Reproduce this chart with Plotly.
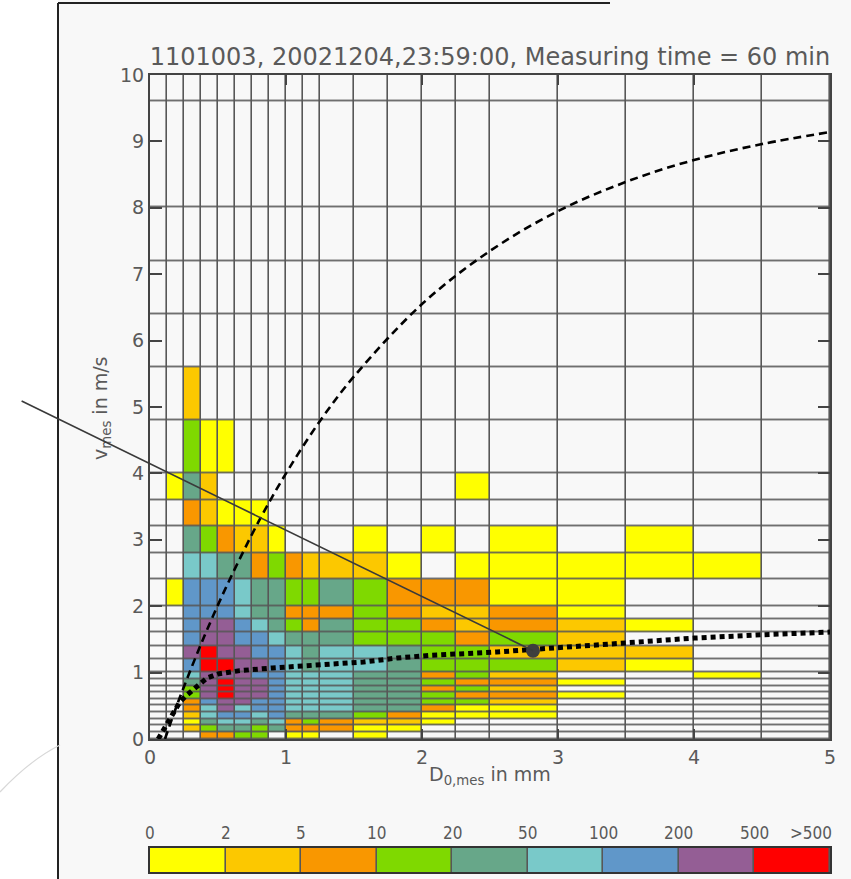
import plotly.graph_objects as go

# ---------------- data ----------------
D_edges = [0, 0.125, 0.25, 0.375, 0.5, 0.625, 0.75, 0.875, 1.0, 1.125, 1.25,
           1.5, 1.75, 2.0, 2.25, 2.5, 3.0, 3.5, 4.0, 4.5, 5.0]
v_edges = [0, 0.1, 0.2, 0.3, 0.4, 0.5, 0.6, 0.7, 0.8, 0.9, 1.0,
           1.2, 1.4, 1.6, 1.8, 2.0, 2.4, 2.8, 3.2, 3.6, 4.0,
           4.8, 5.6, 6.4, 7.2, 8.0, 9.6, 11.2]

class_labels = ["0", "2", "5", "10", "20", "50", "100", "200", "500", ">500"]
class_colors = ["#ffff00", "#fcc800", "#f99700", "#7fd900", "#67a789",
                "#79c9c9", "#6097c9", "#945e95", "#ff0000"]
empty_color = "#f8f8f8"

# drop-count class of every cell (0 = no drops, 1..9 = colour class),
# one list per velocity class, from the lowest velocity class upward
count_class = [
    [0, 0, 0, 3, 3, 4, 4, 0, 1, 1, 0, 1, 0, 0, 0, 0, 0, 0, 0, 0],  # 0.0-0.1
    [0, 0, 2, 4, 5, 5, 4, 5, 3, 3, 3, 1, 1, 0, 0, 0, 0, 0, 0, 0],  # 0.1-0.2
    [0, 0, 1, 5, 6, 6, 5, 6, 3, 4, 3, 2, 2, 1, 0, 0, 0, 0, 0, 0],  # 0.2-0.3
    [0, 0, 2, 6, 7, 7, 6, 7, 5, 5, 5, 4, 3, 1, 1, 1, 0, 0, 0, 0],  # 0.3-0.4
    [0, 0, 3, 6, 8, 6, 7, 7, 6, 6, 6, 5, 5, 3, 1, 1, 0, 0, 0, 0],  # 0.4-0.5
    [0, 0, 3, 7, 8, 8, 7, 7, 6, 6, 6, 5, 5, 4, 4, 2, 0, 0, 0, 0],  # 0.5-0.6
    [0, 0, 4, 8, 9, 8, 8, 7, 6, 6, 6, 5, 5, 4, 3, 3, 1, 0, 0, 0],  # 0.6-0.7
    [0, 0, 4, 8, 9, 8, 8, 7, 6, 6, 6, 5, 5, 3, 4, 2, 0, 0, 0, 0],  # 0.7-0.8
    [0, 0, 5, 8, 9, 8, 8, 7, 6, 6, 6, 5, 5, 4, 3, 3, 1, 0, 0, 0],  # 0.8-0.9
    [0, 0, 6, 8, 8, 8, 7, 7, 6, 6, 6, 5, 5, 3, 4, 2, 0, 0, 1, 0],  # 0.9-1.0
    [0, 0, 7, 9, 9, 8, 8, 7, 6, 5, 6, 6, 5, 4, 4, 4, 2, 1, 0, 0],  # 1.0-1.2
    [0, 0, 8, 9, 8, 8, 7, 7, 6, 5, 6, 6, 5, 4, 4, 2, 2, 2, 0, 0],  # 1.2-1.4
    [0, 0, 7, 8, 8, 7, 7, 6, 5, 5, 5, 4, 4, 4, 3, 4, 2, 0, 0, 0],  # 1.4-1.6
    [0, 0, 7, 8, 8, 7, 6, 5, 4, 3, 5, 4, 4, 3, 2, 3, 2, 1, 0, 0],  # 1.6-1.8
    [0, 0, 7, 7, 7, 6, 5, 5, 3, 3, 3, 4, 3, 2, 2, 3, 1, 0, 0, 0],  # 1.8-2.0
    [0, 1, 7, 7, 7, 6, 5, 5, 4, 4, 5, 4, 3, 3, 3, 1, 1, 0, 0, 0],  # 2.0-2.4
    [0, 0, 6, 6, 5, 5, 3, 4, 3, 2, 2, 2, 1, 0, 1, 1, 1, 1, 1, 0],  # 2.4-2.8
    [0, 0, 5, 4, 3, 2, 2, 1, 0, 0, 0, 1, 0, 1, 0, 1, 0, 1, 0, 0],  # 2.8-3.2
    [0, 0, 3, 2, 1, 1, 1, 0, 0, 0, 0, 0, 0, 0, 0, 0, 0, 0, 0, 0],  # 3.2-3.6
    [0, 1, 5, 2, 0, 0, 0, 0, 0, 0, 0, 0, 0, 0, 1, 0, 0, 0, 0, 0],  # 3.6-4.0
    [0, 0, 4, 1, 1, 0, 0, 0, 0, 0, 0, 0, 0, 0, 0, 0, 0, 0, 0, 0],  # 4.0-4.8
    [0, 0, 2, 0, 0, 0, 0, 0, 0, 0, 0, 0, 0, 0, 0, 0, 0, 0, 0, 0],  # 4.8-5.6
    [0] * 20, [0] * 20, [0] * 20, [0] * 20, [0] * 20,
]

# fall-velocity curve (dashed)
fall_D = [0.11, 0.2, 0.3, 0.4, 0.5, 0.6, 0.8, 1.0, 1.25, 1.5, 2.0, 2.5, 3.0, 3.5, 4.0, 4.5, 5.0]
fall_v = [0.0, 0.52, 1.05, 1.55, 2.02, 2.46, 3.28, 4.0, 4.79, 5.46, 6.55, 7.35, 7.95, 8.39, 8.72, 8.96, 9.14]

# fitted velocity line (thick dotted)
fit_D = [0.06, 0.15, 0.22, 0.27, 0.35, 0.42, 0.5, 0.66, 0.9, 1.2, 1.57, 1.82, 2.06, 2.55, 3.04, 3.5, 4.0, 4.5, 5.0]
fit_v = [0.0, 0.33, 0.56, 0.66, 0.79, 0.92, 0.98, 1.03, 1.07, 1.11, 1.16, 1.22, 1.26, 1.31, 1.38, 1.45, 1.52, 1.57, 1.61]

# pointer: marked point and start of the pointer line
mark_D = [2.816]
mark_v = [1.33]
pointer_from = (-0.955, 5.1)

x_ticks = [0, 1, 2, 3, 4, 5]
y_ticks = list(range(0, 11))

# ---------------- layout helpers ----------------
W, H = 851, 879
ML, MR, MT, MB = 150, 21, 75, 7
PW, PH = W - ML - MR, H - MT - MB
main_bottom_px = 739
cbar_top_px = 848


def px_x(px):
    return (px - ML) / PW


def px_y(py):
    return (H - MB - py) / PH


grid_col = "#575757"
text_col = "#5a5a5a"
font_fam = "DejaVu Sans"
narrow_fam = "Liberation Sans Narrow, DejaVu Sans Condensed"

n = len(class_colors)
cscale = [[0.0, empty_color], [1.0 / (n + 1), empty_color]]
for i, c in enumerate(class_colors):
    cscale += [[(i + 1) / (n + 1), c], [(i + 2) / (n + 1), c]]

fig = go.Figure()

fig.add_trace(go.Heatmap(
    x=D_edges, y=v_edges, z=count_class,
    colorscale=cscale, zmin=-0.5, zmax=n + 0.5, showscale=False,
    xgap=1.6, ygap=1.6, hoverinfo="skip",
    xaxis="x", yaxis="y"))

fig.add_trace(go.Scatter(
    x=fall_D, y=fall_v, mode="lines", line_shape="spline",
    line=dict(color="black", width=2.6, dash="8px,5px"),
    hoverinfo="skip", xaxis="x", yaxis="y"))

fig.add_trace(go.Scatter(
    x=fit_D, y=fit_v, mode="lines",
    line=dict(color="black", width=5, dash="5px,4px"),
    hoverinfo="skip", xaxis="x", yaxis="y"))

fig.add_trace(go.Scatter(
    x=mark_D, y=mark_v, mode="markers",
    marker=dict(color="#3e3e3e", size=14),
    hoverinfo="skip", xaxis="x", yaxis="y"))

# colour bar as its own row of boxes
fig.add_trace(go.Heatmap(
    x=list(range(n + 1)), y=[0, 1], z=[list(range(1, n + 1))],
    colorscale=cscale, zmin=-0.5, zmax=n + 0.5, showscale=False,
    xgap=1.6, hoverinfo="skip", xaxis="x2", yaxis="y2"))

annotations = []
for i, lab in enumerate(class_labels[:-1]):
    annotations.append(dict(
        x=i, y=px_y(833), xref="x2", yref="paper", text=lab, showarrow=False,
        xanchor="center", yanchor="middle",
        font=dict(family=narrow_fam, size=17, color=text_col)))
annotations.append(dict(
    x=n - 0.25, y=px_y(833), xref="x2", yref="paper", text=class_labels[-1],
    showarrow=False, xanchor="center", yanchor="middle",
    font=dict(family=narrow_fam, size=17, color=text_col)))

annotations.append(dict(
    x=0.5, y=px_y(775), xref="paper", yref="paper", showarrow=False,
    xanchor="center", yanchor="middle",
    text="D<sub>0,mes</sub> in mm",
    font=dict(family=font_fam, size=19, color=text_col)))
annotations.append(dict(
    x=px_x(101), y=px_y(408), xref="paper", yref="paper", showarrow=False,
    xanchor="center", yanchor="middle",
    text="v<sub>mes</sub> in m/s", textangle=-90,
    font=dict(family=font_fam, size=19, color=text_col)))

annotations.append(dict(
    x=mark_D[0], y=mark_v[0], xref="x", yref="y",
    ax=pointer_from[0], ay=pointer_from[1], axref="x", ayref="y",
    text="", showarrow=True, arrowhead=0, arrowwidth=1.6,
    arrowcolor="#3a3a3a", standoff=0, startstandoff=0))

shapes = [
    # white strip to the left of the page frame
    dict(type="rect", xref="paper", yref="paper",
         x0=px_x(-5), x1=px_x(58), y0=px_y(H + 5), y1=px_y(-5),
         fillcolor="white", line_width=0, layer="below"),
    # page frame
    dict(type="line", xref="paper", yref="paper",
         x0=px_x(58), x1=px_x(58), y0=px_y(H + 5), y1=px_y(3),
         line=dict(color="#222", width=2)),
    dict(type="line", xref="paper", yref="paper",
         x0=px_x(58), x1=px_x(610), y0=px_y(3), y1=px_y(3),
         line=dict(color="#222", width=2)),
    # faint arc bottom left
    dict(type="path", xref="paper", yref="paper",
         path=f"M {px_x(0)},{px_y(792)} Q {px_x(30)},{px_y(760)} {px_x(60)},{px_y(745)}",
         line=dict(color="#d8d8d8", width=1.2)),
]

axis_common = dict(showgrid=False, zeroline=False, showline=True,
                   linecolor="#444", linewidth=2, mirror="ticks",
                   ticks="inside", tickcolor="#444", tickwidth=1.6,
                   automargin=False,
                   tickfont=dict(family=font_fam, size=19, color=text_col))

plain_axis = dict(showticklabels=False, ticks="", showgrid=False, zeroline=False,
                  showline=True, mirror=True, linecolor="#333", linewidth=1.6,
                  automargin=False)

fig.update_layout(
    width=W, height=H, autosize=False,
    margin=dict(l=ML, r=MR, t=MT, b=MB, pad=0, autoexpand=False),
    paper_bgcolor="#f8f8f8", plot_bgcolor=grid_col,
    showlegend=False,
    title=dict(text="1101003, 20021204,23:59:00, Measuring time = 60 min",
               x=0.5, xref="paper", xanchor="center",
               y=1 - 57 / H, yanchor="middle", automargin=False,
               font=dict(family=font_fam, size=24, color=text_col)),
    xaxis=dict(range=[0, 5], domain=[0, 1], anchor="y",
               tickvals=x_ticks, ticklen=10, **axis_common),
    yaxis=dict(range=[0, 10], domain=[px_y(main_bottom_px), 1], anchor="x",
               tickvals=y_ticks, ticklen=12, **axis_common),
    xaxis2=dict(range=[0, n], domain=[0, 1], anchor="y2", **plain_axis),
    yaxis2=dict(range=[0, 1], domain=[0, px_y(cbar_top_px)], anchor="x2", **plain_axis),
    annotations=annotations,
    shapes=shapes,
)

fig.write_html(
    "out.html",
    config={"displayModeBar": False, "responsive": False},
    post_script="document.documentElement.style.margin='0';"
                "document.body.style.margin='0';"
                "document.body.style.overflow='hidden';")
